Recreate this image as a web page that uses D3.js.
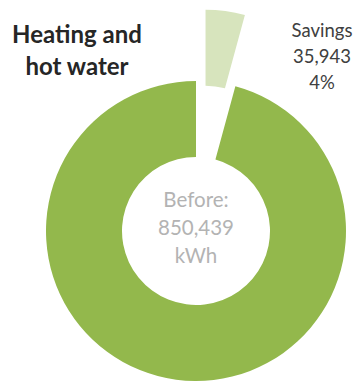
<!DOCTYPE html>
<html>
<head>
<meta charset="utf-8">
<script src="https://cdn.jsdelivr.net/npm/d3@7"></script>
<style>
  html, body { margin: 0; padding: 0; background: #ffffff; }
  svg { display: block; }
</style>
</head>
<body>
<svg id="chart" width="355" height="382"></svg>
<script>
// Energy use for heating and hot water: savings versus remaining consumption
const categories = ["Savings", "Remaining"];
const values = [35943, 814496];
const totalBefore = 850439;
const titleLines = ["Heating and", "hot water"];
const savingsLines = ["Savings", "35,943", "4%"];
const centerLines = ["Before:", "850,439", "kWh"];
const colors = ["#d7e4bd", "#93b84c"];

const svg = d3.select("#chart");
const cx = 196, cy = 231;
const outerR = 150, innerR = 74;
const explode = 72;

const pie = d3.pie().sort(null).value(d => d.value);
const arc = d3.arc().innerRadius(innerR).outerRadius(outerR);
const color = d3.scaleOrdinal().domain(categories).range(colors);

const data = categories.map((c, i) => ({ name: c, value: values[i] }));
const g = svg.append("g").attr("transform", `translate(${cx},${cy})`);

g.selectAll("path")
  .data(pie(data))
  .join("path")
  .attr("d", arc)
  .attr("fill", d => color(d.data.name))
  .attr("transform", d => {
    if (d.data.name !== "Savings") return null;
    const mid = (d.startAngle + d.endAngle) / 2;
    return `translate(${explode * Math.sin(mid)},${-explode * Math.cos(mid)})`;
  });

// Chart title, top left
svg.append("text")
  .attr("x", 77).attr("y", 43)
  .attr("text-anchor", "middle")
  .attr("font-family", "Lato, sans-serif")
  .attr("font-weight", "bold")
  .attr("font-size", 24)
  .attr("fill", "#262626")
  .selectAll("tspan")
  .data(titleLines)
  .join("tspan")
  .attr("x", 77)
  .attr("dy", (d, i) => i === 0 ? 0 : 32)
  .text(d => d);

// Savings label beside the exploded slice
svg.append("text")
  .attr("x", 322).attr("y", 37)
  .attr("text-anchor", "middle")
  .attr("font-family", "Lato, sans-serif")
  .attr("font-size", 18.5)
  .attr("fill", "#404040")
  .selectAll("tspan")
  .data(savingsLines)
  .join("tspan")
  .attr("x", 322)
  .attr("dy", (d, i) => i === 0 ? 0 : 26)
  .text(d => d);

// Total consumption in the hole of the donut
svg.append("text")
  .attr("x", cx).attr("y", 207)
  .attr("text-anchor", "middle")
  .attr("font-family", "Lato, sans-serif")
  .attr("font-size", 20.5)
  .attr("fill", "#b3b3b3")
  .selectAll("tspan")
  .data(centerLines)
  .join("tspan")
  .attr("x", cx)
  .attr("dy", (d, i) => i === 0 ? 0 : 28)
  .text(d => d);
</script>
</body>
</html>
